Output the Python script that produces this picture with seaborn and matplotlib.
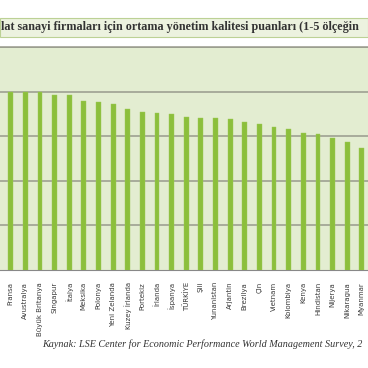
import matplotlib
matplotlib.use("Agg")
import matplotlib.pyplot as plt
import seaborn as sns
import pandas as pd
from matplotlib.patches import Rectangle

countries = ["Fransa", "Avustralya", "Büyük Britanya", "Singapur", "İtalya", "Meksika",
             "Polonya", "Yeni Zelanda", "Kuzey İrlanda", "Portekiz", "İrlanda", "İspanya",
             "TÜRKİYE", "Şili", "Yunanistan", "Arjantin", "Brezilya", "Çin", "Vietnam",
             "Kolombiya", "Kenya", "Hindistan", "Nijerya", "Nikaragua", "Myanmar"]
scores = [2.99, 2.99, 2.99, 2.96, 2.96, 2.90, 2.88, 2.86, 2.80, 2.77, 2.76, 2.75,
          2.71, 2.70, 2.70, 2.69, 2.66, 2.64, 2.60, 2.58, 2.54, 2.52, 2.48, 2.43, 2.37]
title_text = "lat sanayi firmaları için ortama yönetim kalitesi puanları (1-5 ölçeğin"
source_text = "Kaynak: LSE Center for Economic Performance World Management Survey, 2"

df = pd.DataFrame({"country": countries, "score": scores})

sns.set_theme(style="white")
plt.rcParams['font.family'] = ['DejaVu Sans']

fig = plt.figure(figsize=(3.68, 3.68), dpi=100)
W = H = 368.0

# title band
fig.patches.append(Rectangle((0, 1 - 36.5 / H), 1.0, 19 / H, transform=fig.transFigure,
                             facecolor="#ecf2df", edgecolor="#bcd195", linewidth=0.8))
fig.text(1 / W, 1 - 27 / H, title_text, fontsize=8.75, color="#333333",
         family=["Liberation Serif", "DejaVu Serif"], fontweight="bold",
         ha="left", va="center")

ax = fig.add_axes([0, 1 - 270 / H, 1.0, (270 - 47) / H])
ax.set_facecolor("#e3edd1")
sns.barplot(data=df, x="country", y="score", color="#8cbf3c", width=0.33,
            saturation=1, ax=ax, zorder=3, edgecolor="#9ccb55", linewidth=0.3)
ax.set_ylim(1.0, 3.5)
ax.set_xlim(-0.731, 24.42)
ax.set_yticks([1.5, 2.0, 2.5, 3.0, 3.5])
ax.yaxis.grid(True, color="#989a8c", linewidth=1.1, zorder=0)
ax.set_axisbelow(True)
ax.tick_params(axis="y", left=False, labelleft=False)
ax.tick_params(axis="x", bottom=False, pad=2.5, labelsize=5.0, labelcolor="#3a3a3a")
for lab in ax.get_xticklabels():
    lab.set_rotation(90)
    lab.set_family(["Liberation Sans Narrow", "DejaVu Sans Condensed", "DejaVu Sans"])
ax.set_xlabel("")
ax.set_ylabel("")
for s in ["left", "right"]:
    ax.spines[s].set_visible(False)
ax.spines["top"].set_color("#989a8c")
ax.spines["top"].set_linewidth(1.1)
ax.spines["bottom"].set_color("#888888")
ax.spines["bottom"].set_linewidth(0.8)

fig.text(42 / W, 1 - 344 / H, source_text, fontsize=7.3, color="#333333",
         family=["Liberation Serif", "DejaVu Serif"], style="italic",
         ha="left", va="center")

fig.savefig("out.png", dpi=100)
